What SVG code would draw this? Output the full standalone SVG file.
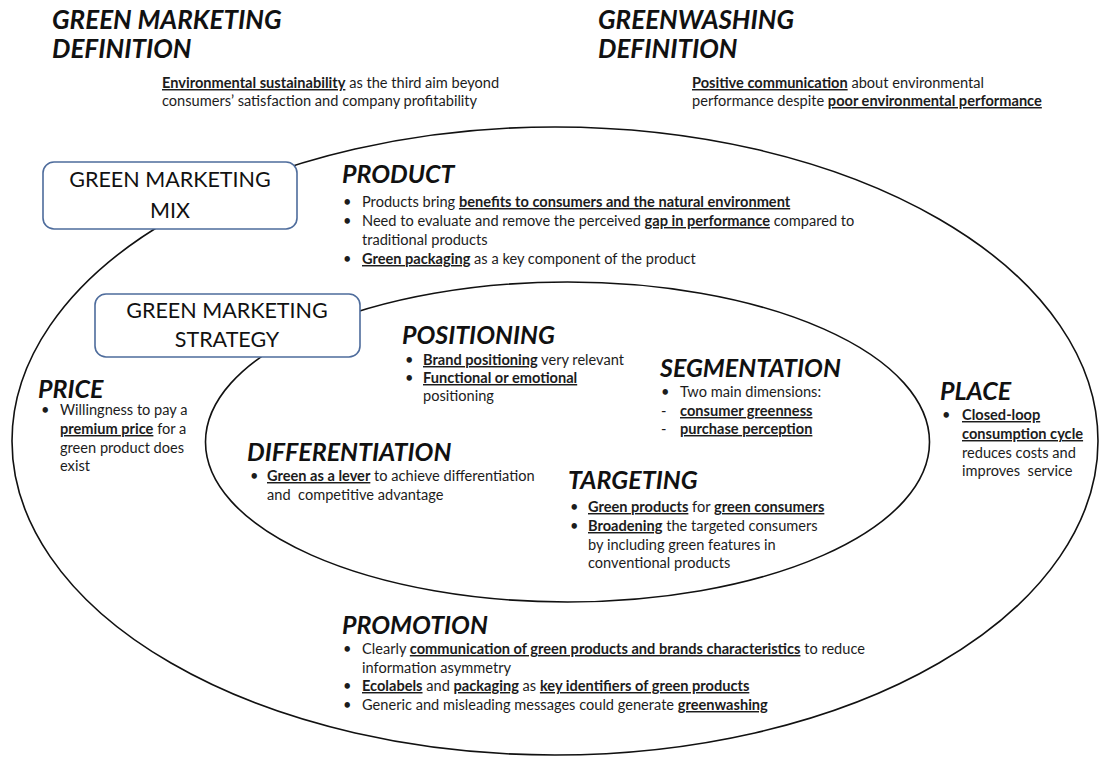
<svg xmlns="http://www.w3.org/2000/svg" width="1108" height="759" viewBox="0 0 1108 759">
<style>
.h{font-family:Lato,"Liberation Sans",sans-serif;font-style:italic;font-weight:bold;font-size:25px;fill:#111}
.t{font-family:Lato,"Liberation Sans",sans-serif;font-style:italic;font-weight:bold;font-size:26px;fill:#111}
.b{font-family:Lato,"Liberation Sans",sans-serif;font-size:14.6px;fill:#1c1c1c}
.u{font-weight:bold;text-decoration:underline}
.ring{fill:none;stroke:#111;stroke-width:1.6}
.box{fill:#fff;stroke:#4e6c9c;stroke-width:1.6}
.bt{font-family:Lato,"Liberation Sans",sans-serif;font-size:21.5px;fill:#111;text-anchor:middle}
</style>
<rect width="1108" height="759" fill="#fff"/>
<g id="rings">
<ellipse class="ring" cx="555" cy="441" rx="543" ry="314"/>
<ellipse class="ring" cx="567.5" cy="442" rx="362" ry="160"/>
</g>
<g id="green-marketing-definition">
<text class="t" x="52" y="29">GREEN MARKETING</text>
<text class="t" x="52" y="58">DEFINITION</text>
<text class="b" x="162" y="88"><tspan class="u">Environmental sustainability</tspan> as the third aim beyond</text>
<text class="b" x="162" y="106">consumers’ satisfaction and company profitability</text>
</g>
<g id="greenwashing-definition">
<text class="t" x="598" y="29">GREENWASHING</text>
<text class="t" x="598" y="58">DEFINITION</text>
<text class="b" x="692" y="88"><tspan class="u">Positive communication</tspan> about environmental</text>
<text class="b" x="692" y="106">performance despite <tspan class="u">poor environmental performance</tspan></text>
</g>
<g id="mix-box">
<rect class="box" x="43" y="162" width="254" height="67" rx="11"/>
<text class="bt" x="170" y="187">GREEN MARKETING</text>
<text class="bt" x="170" y="218">MIX</text>
</g>
<g id="strategy-box">
<rect class="box" x="95" y="294" width="265" height="63" rx="11"/>
<text class="bt" x="227" y="318">GREEN MARKETING</text>
<text class="bt" x="227" y="347">STRATEGY</text>
</g>
<g id="product">
<text class="h" x="342" y="183">PRODUCT</text>
<text class="b" x="343" y="207">•</text>
<text class="b" x="362" y="207">Products bring <tspan class="u">benefits to consumers and the natural environment</tspan></text>
<text class="b" x="343" y="226">•</text>
<text class="b" x="362" y="226">Need to evaluate and remove the perceived <tspan class="u">gap in performance</tspan> compared to</text>
<text class="b" x="362" y="245">traditional products</text>
<text class="b" x="343" y="264">•</text>
<text class="b" x="362" y="264"><tspan class="u">Green packaging</tspan> as a key component of the product</text>
</g>
<g id="positioning">
<text class="h" x="402" y="344">POSITIONING</text>
<text class="b" x="405" y="365">•</text>
<text class="b" x="423" y="365"><tspan class="u">Brand positioning</tspan> very relevant</text>
<text class="b" x="405" y="383">•</text>
<text class="b" x="423" y="383"><tspan class="u">Functional or emotional</tspan></text>
<text class="b" x="423" y="401">positioning</text>
</g>
<g id="segmentation">
<text class="h" x="660" y="377">SEGMENTATION</text>
<text class="b" x="661" y="397">•</text>
<text class="b" x="680" y="397">Two main dimensions:</text>
<text class="b" x="661" y="416">-</text>
<text class="b" x="680" y="416"><tspan class="u">consumer greenness</tspan></text>
<text class="b" x="661" y="434">-</text>
<text class="b" x="680" y="434"><tspan class="u">purchase perception</tspan></text>
</g>
<g id="price">
<text class="h" x="38" y="398">PRICE</text>
<text class="b" x="41" y="415">•</text>
<text class="b" x="60" y="415">Willingness to pay a</text>
<text class="b" x="60" y="434"><tspan class="u">premium price</tspan> for a</text>
<text class="b" x="60" y="453">green product does</text>
<text class="b" x="60" y="471">exist</text>
</g>
<g id="differentiation">
<text class="h" x="247" y="461">DIFFERENTIATION</text>
<text class="b" x="250" y="481">•</text>
<text class="b" x="267" y="481"><tspan class="u">Green as a lever</tspan> to achieve differentiation</text>
<text class="b" x="267" y="500" xml:space="preserve">and  competitive advantage</text>
</g>
<g id="targeting">
<text class="h" x="568" y="489">TARGETING</text>
<text class="b" x="570" y="512">•</text>
<text class="b" x="588" y="512"><tspan class="u">Green products</tspan> for <tspan class="u">green consumers</tspan></text>
<text class="b" x="570" y="531">•</text>
<text class="b" x="588" y="531"><tspan class="u">Broadening</tspan> the targeted consumers</text>
<text class="b" x="588" y="550">by including green features in</text>
<text class="b" x="588" y="568">conventional products</text>
</g>
<g id="place">
<text class="h" x="940" y="400">PLACE</text>
<text class="b" x="942" y="420">•</text>
<text class="b" x="962" y="420"><tspan class="u">Closed-loop</tspan></text>
<text class="b" x="962" y="439"><tspan class="u">consumption cycle</tspan></text>
<text class="b" x="962" y="458">reduces costs and</text>
<text class="b" x="962" y="476" xml:space="preserve">improves  service</text>
</g>
<g id="promotion">
<text class="h" x="342" y="634">PROMOTION</text>
<text class="b" x="343" y="654">•</text>
<text class="b" x="362" y="654">Clearly <tspan class="u">communication of green products and brands characteristics</tspan> to reduce</text>
<text class="b" x="362" y="673">information asymmetry</text>
<text class="b" x="343" y="691">•</text>
<text class="b" x="362" y="691"><tspan class="u">Ecolabels</tspan> and <tspan class="u">packaging</tspan> as <tspan class="u">key identifiers of green products</tspan></text>
<text class="b" x="343" y="710">•</text>
<text class="b" x="362" y="710">Generic and misleading messages could generate <tspan class="u">greenwashing</tspan></text>
</g>
</svg>
